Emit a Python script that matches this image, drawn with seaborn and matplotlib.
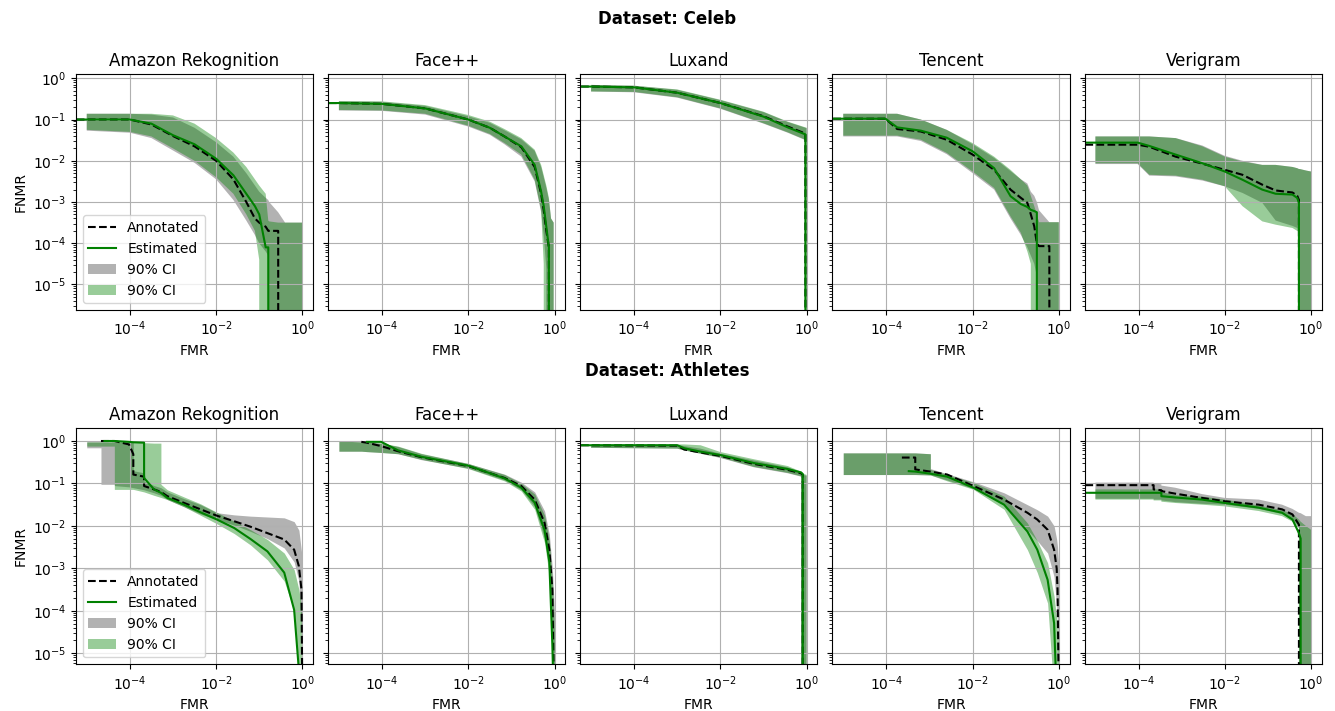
import numpy as np
import matplotlib
matplotlib.use("Agg")
import matplotlib.pyplot as plt
from matplotlib.ticker import NullLocator
import seaborn as sns

# All curve values in decades (log10 of FMR / FNMR).
# Z marks points where the curve has fallen to FNMR = 0 (drops off the log axis).
Z = -np.inf
N = np.nan

# === Dataset: Celeb ===
celeb_amazon_fmr = [-6, -5, -4, -3.5, -3, -2.5, -2, -1.6, -1.3, -1.1, -1.0, -0.85, -0.79, -0.77, -0.56, -0.4, 0]
celeb_amazon_ann = [-1.0, -1.0, -1.0, -1.12, -1.4, -1.65, -2.0, -2.45, -3.0, -3.4, -3.5, -3.6, -3.7, -3.7, -3.7, Z, Z]
celeb_amazon_est = [-1.0, -1.0, -1.0, -1.1, -1.38, -1.6, -1.95, -2.35, -2.8, -3.1, -3.3, -4.1, -4.1, Z, Z, Z, Z]
celeb_amazon_gray_lo = [N, -1.27, -1.32, -1.45, -1.75, -2.05, -2.45, -2.95, -3.45, -3.8, -4.0, -4.2, -4.3, Z, Z, Z, Z]
celeb_amazon_gray_hi = [N, -0.86, -0.86, -0.88, -0.95, -1.2, -1.55, -1.9, -2.3, -2.6, -2.75, -2.9, -2.95, -3.0, -3.25, -3.5, -3.5]
celeb_amazon_green_lo = [N, -1.25, -1.3, -1.41, -1.7, -2.0, -2.4, -2.8, -3.3, -3.7, -4.4, Z, Z, Z, Z, Z, Z]
celeb_amazon_green_hi = [N, -0.86, -0.86, -0.86, -0.9, -1.1, -1.45, -1.8, -2.15, -2.45, -2.6, -2.8, -3.45, -3.47, -3.5, -3.5, -3.5]

celeb_face_fmr = [-6, -5, -4, -3, -2, -1.5, -1.16, -0.77, -0.46, -0.31, -0.25, -0.19, -0.13, -0.08, -0.02]
celeb_face_ann = [-0.6, -0.6, -0.62, -0.73, -1.0, -1.2, -1.41, -1.67, -2.15, -2.8, -3.2, -3.7, -4.1, Z, Z]
celeb_face_est = [-0.6, -0.6, -0.62, -0.73, -1.0, -1.2, -1.41, -1.65, -2.1, -2.75, -3.1, -3.6, -4.1, Z, Z]
celeb_face_gray_lo = [N, -0.78, -0.79, -0.88, -1.17, -1.37, -1.6, -1.9, -2.5, -3.25, -3.8, -4.6, Z, Z, Z]
celeb_face_gray_hi = [N, -0.56, -0.57, -0.67, -0.92, -1.08, -1.26, -1.48, -1.76, -2.15, -2.4, -2.65, -2.95, -3.4, -3.5]
celeb_face_green_lo = [N, -0.77, -0.78, -0.86, -1.15, -1.35, -1.57, -1.85, -2.46, -3.2, -4.5, Z, Z, Z, Z]
celeb_face_green_hi = [N, -0.55, -0.56, -0.65, -0.89, -1.05, -1.23, -1.45, -1.73, -2.1, -2.35, -2.6, -2.9, -3.4, -3.5]

celeb_luxand_fmr = [-6, -5, -4, -3, -2, -1, -0.44, -0.03, 0]
celeb_luxand_ann = [-0.2, -0.2, -0.22, -0.35, -0.6, -0.92, -1.17, -1.34, Z]
celeb_luxand_est = [-0.2, -0.2, -0.22, -0.35, -0.6, -0.93, -1.19, -1.36, Z]
celeb_luxand_gray_lo = [N, -0.32, -0.34, -0.47, -0.74, -1.1, -1.32, -1.5, Z]
celeb_luxand_gray_hi = [N, -0.16, -0.18, -0.28, -0.53, -0.82, -1.06, -1.2, -1.21]
celeb_luxand_green_lo = [N, -0.32, -0.33, -0.46, -0.73, -1.09, -1.31, -1.49, Z]
celeb_luxand_green_hi = [N, -0.16, -0.18, -0.27, -0.52, -0.81, -1.05, -1.19, -1.2]

celeb_tencent_fmr = [-6, -5, -4.02, -3.75, -3.2, -2.6, -2, -1.5, -1.12, -0.88, -0.73, -0.65, -0.57, -0.51, -0.46, -0.22, -0.1, 0]
celeb_tencent_ann = [-0.98, -0.98, -0.98, -1.23, -1.29, -1.49, -1.85, -2.22, -2.7, -2.9, -3.02, -3.3, -3.59, -4.0, -4.07, -4.07, Z, Z]
celeb_tencent_est = [-0.98, -0.98, -0.98, -1.19, -1.27, -1.44, -1.77, -2.18, -2.86, -3.05, -3.12, -3.19, -3.22, -3.25, Z, Z, Z, Z]
celeb_tencent_gray_lo = [N, -1.41, -1.41, -1.41, -1.52, -1.84, -2.3, -2.7, -3.4, -3.8, -4.1, -4.3, -4.5, -4.8, Z, Z, Z, Z]
celeb_tencent_gray_hi = [N, -0.86, -0.86, -0.86, -1.0, -1.25, -1.6, -1.93, -2.25, -2.45, -2.55, -2.75, -2.85, -3.0, -3.2, -3.49, -3.49, -3.49]
celeb_tencent_green_lo = [N, -1.39, -1.39, -1.39, -1.49, -1.81, -2.26, -2.66, -3.35, -3.75, -4.2, -4.5, Z, Z, Z, Z, Z, Z]
celeb_tencent_green_hi = [N, -0.86, -0.86, -0.86, -1.0, -1.25, -1.57, -1.9, -2.22, -2.45, -2.6, -2.85, -3.1, -3.3, -3.49, -3.49, -3.49, -3.49]

celeb_verigram_fmr = [-6, -5, -4.02, -3.75, -3.14, -2.52, -2, -1.59, -1.13, -0.82, -0.43, -0.32, -0.28, -0.26, -0.1, 0]
celeb_verigram_ann = [-1.61, -1.61, -1.61, -1.66, -1.9, -2.07, -2.22, -2.34, -2.58, -2.72, -2.77, -2.85, -2.95, Z, Z, Z]
celeb_verigram_est = [-1.56, -1.56, -1.56, -1.64, -1.85, -2.06, -2.26, -2.46, -2.7, -2.8, -2.82, -2.9, -3.02, Z, Z, Z]
celeb_verigram_gray_lo = [N, -2.08, -2.08, -2.36, -2.38, -2.48, -2.62, -2.78, -3.02, -3.45, -3.58, -3.63, -3.68, Z, Z, Z]
celeb_verigram_gray_hi = [N, -1.41, -1.41, -1.41, -1.45, -1.63, -1.88, -2.0, -2.1, -2.1, -2.15, -2.18, -2.2, -2.2, -2.24, -2.26]
celeb_verigram_green_lo = [N, -2.06, -2.06, -2.34, -2.36, -2.46, -2.62, -3.1, -3.47, -3.55, -3.63, -3.7, -3.72, Z, Z, Z]
celeb_verigram_green_hi = [N, -1.41, -1.41, -1.41, -1.45, -1.65, -1.9, -2.02, -2.1, -2.1, -2.15, -2.18, -2.2, -2.2, -2.24, -2.26]

# === Dataset: Athletes ===
ath_amazon_fmr = [-6, -5, -4.67, -4.67, -4.59, -4.36, -4.36, -4.02, -3.92, -3.92, -3.67, -3.67, -3.44, -3.28,
                  -3.28, -3.13, -2.74, -2.36, -1.98, -1.58, -1.2, -0.81, -0.42, -0.19, -0.08, -0.02, 0]
ath_amazon_ann = [N, N, N, 0.0, 0.0, 0.0, 0.0, -0.08, -0.31, -0.79, -0.84, -1.06, -1.14, -1.2,
                  -1.2, -1.3, -1.46, -1.61, -1.76, -1.89, -2.02, -2.17, -2.32, -2.56, -2.95, -3.5, -6]
ath_amazon_est = [N, N, N, N, 0.0, 0.0, 0.0, -0.02, -0.03, -0.03, -0.04, -0.87, -1.14, -1.22,
                  -1.22, -1.34, -1.5, -1.68, -1.85, -2.05, -2.31, -2.6, -3.1, -3.98, -5.4, -6, -6]
ath_amazon_gray_lo = [N, -0.16, -0.16, -1.02, -1.02, -1.02, -1.05, -1.08, -1.1, -1.1, -1.15, -1.15, -1.22, -1.28,
                      -1.28, -1.38, -1.55, -1.72, -1.85, -1.98, -2.13, -2.3, -2.52, -2.85, -3.3, -4.5, -6]
ath_amazon_gray_hi = [N, -0.02, -0.02, -0.02, -0.02, -0.02, -0.02, -0.02, -0.02, -0.7, -0.75, -0.95, -1.05, -1.1,
                      -1.1, -1.2, -1.36, -1.5, -1.69, -1.74, -1.77, -1.79, -1.81, -1.9, -2.1, -2.6, -3.5]
ath_amazon_green_lo = [N, -0.12, -0.12, -0.12, -0.12, -0.12, -1.14, -1.14, -1.14, -1.14, -1.2, -1.2, -1.28, -1.33,
                       -1.33, -1.38, -1.55, -1.75, -1.95, -2.18, -2.45, -2.8, -3.3, -4.0, -5.5, -6, -6]
ath_amazon_green_hi = [N, -0.02, -0.02, -0.02, -0.02, -0.02, -0.02, -0.02, -0.03, -0.03, -0.04, -0.04, -0.05, -0.05,
                       -1.02, -1.15, -1.32, -1.48, -1.68, -1.89, -2.09, -2.32, -2.64, -3.03, -3.5, -3.9, -4.3]

ath_face_fmr = [-6, -5, -4.48, -4.35, -4.02, -3.63, -3.09, -2, -1.16, -0.77, -0.46, -0.23, -0.12, -0.05, -0.02, 0]
ath_face_ann = [N, N, -0.02, -0.04, -0.12, -0.24, -0.38, -0.59, -0.87, -1.06, -1.38, -1.93, -2.56, -3.5, -5.5, -6]
ath_face_est = [N, N, N, -0.02, -0.02, -0.22, -0.37, -0.58, -0.88, -1.1, -1.45, -2.1, -2.85, -4.8, -6, -6]
ath_face_gray_lo = [N, -0.24, -0.24, -0.25, -0.27, -0.3, -0.44, -0.64, -0.92, -1.15, -1.55, -2.3, -3.0, -4.5, -6, -6]
ath_face_gray_hi = [N, 0.0, -0.02, -0.03, -0.05, -0.13, -0.3, -0.53, -0.78, -0.97, -1.2, -1.65, -2.2, -3.0, -3.6, -4.0]
ath_face_green_lo = [N, -0.24, -0.24, -0.25, -0.27, -0.3, -0.43, -0.65, -0.94, -1.18, -1.61, -2.4, -3.19, -5.0, -6, -6]
ath_face_green_hi = [N, 0.0, -0.02, -0.03, -0.05, -0.12, -0.29, -0.53, -0.79, -1.0, -1.25, -1.75, -2.35, -3.3, -4.0, -4.5]

ath_luxand_fmr = [-6, -5, -3.0, -2.84, -2.46, -2.0, -1.22, -0.44, -0.13, -0.09, -0.07, 0]
ath_luxand_ann = [-0.1, -0.1, -0.11, -0.2, -0.27, -0.35, -0.54, -0.68, -0.76, -0.8, Z, Z]
ath_luxand_est = [-0.1, -0.1, -0.1, -0.17, -0.25, -0.33, -0.52, -0.66, -0.74, -0.78, Z, Z]
ath_luxand_gray_lo = [N, -0.16, -0.18, -0.22, -0.3, -0.4, -0.62, -0.76, -0.84, Z, Z, Z]
ath_luxand_gray_hi = [N, -0.08, -0.09, -0.12, -0.18, -0.3, -0.46, -0.62, -0.74, -0.78, -0.8, -0.82]
ath_luxand_green_lo = [N, -0.16, -0.18, -0.22, -0.3, -0.39, -0.61, -0.75, -0.83, Z, Z, Z]
ath_luxand_green_hi = [N, -0.08, -0.08, -0.08, -0.1, -0.26, -0.43, -0.59, -0.72, -0.75, -0.77, -0.8]

ath_tencent_fmr = [-6, -5, -3.64, -3.48, -3.33, -3.33, -2.98, -2.98, -2.59, -1.98, -1.27, -0.73, -0.5, -0.26, -0.11, -0.05, -0.03, 0]
ath_tencent_ann = [N, N, -0.39, -0.39, -0.39, -0.67, -0.72, -0.72, -0.79, -1.06, -1.38, -1.69, -1.85, -2.09, -2.56, -3.0, -3.5, -6]
ath_tencent_est = [N, N, N, -0.71, -0.72, -0.72, -0.77, -0.77, -0.84, -1.1, -1.5, -2.13, -2.56, -3.27, -4.29, -6, -6, -6]
ath_tencent_gray_lo = [N, -0.79, -0.79, -0.79, -0.79, -0.79, -0.8, -0.8, -0.92, -1.12, -1.5, -2.09, -2.35, -2.64, -3.2, -3.9, -4.3, -6]
ath_tencent_gray_hi = [N, -0.28, -0.28, -0.28, -0.28, -0.28, -0.3, -0.65, -0.77, -0.96, -1.22, -1.5, -1.62, -1.77, -2.0, -2.32, -2.5, -3.0]
ath_tencent_green_lo = [N, -0.79, -0.79, -0.79, -0.79, -0.79, -0.8, -0.8, -0.94, -1.14, -1.61, -2.56, -3.1, -3.82, -6, -6, -6, -6]
ath_tencent_green_hi = [N, -0.28, -0.28, -0.28, -0.28, -0.28, -0.3, -0.67, -0.79, -0.98, -1.3, -1.93, -2.35, -2.87, -3.66, -4.2, -4.5, -5.0]

ath_verigram_fmr = [-6, -5, -3.65, -3.65, -3.47, -3.47, -3.15, -2.53, -2.0, -1.21, -0.67, -0.43, -0.28, -0.24, -0.12, 0]
ath_verigram_ann = [-1.04, -1.04, -1.04, -1.14, -1.16, -1.18, -1.24, -1.34, -1.42, -1.5, -1.61, -1.73, -1.97, Z, Z, Z]
ath_verigram_est = [-1.22, -1.22, -1.22, -1.22, -1.22, -1.3, -1.33, -1.38, -1.46, -1.57, -1.69, -1.85, -2.17, -2.3, Z, Z]
ath_verigram_gray_lo = [N, -1.36, -1.36, -1.38, -1.38, -1.4, -1.44, -1.48, -1.5, -1.6, -1.72, -1.85, -2.0, Z, Z, Z]
ath_verigram_gray_hi = [N, -0.98, -0.98, -1.0, -1.02, -1.05, -1.1, -1.25, -1.34, -1.38, -1.5, -1.6, -1.69, -1.7, -1.77, -1.77]
ath_verigram_green_lo = [N, -1.38, -1.38, -1.4, -1.4, -1.43, -1.46, -1.5, -1.54, -1.65, -1.77, -1.9, -2.05, Z, Z, Z]
ath_verigram_green_hi = [N, -1.14, -1.14, -1.14, -1.14, -1.2, -1.28, -1.31, -1.38, -1.52, -1.63, -1.72, -1.85, -1.9, -2.0, -2.09]

systems = ["Amazon Rekognition", "Face++", "Luxand", "Tencent", "Verigram"]
rows = [
    ("Dataset: Celeb", [
        (celeb_amazon_fmr, celeb_amazon_ann, celeb_amazon_est, celeb_amazon_gray_lo, celeb_amazon_gray_hi, celeb_amazon_green_lo, celeb_amazon_green_hi),
        (celeb_face_fmr, celeb_face_ann, celeb_face_est, celeb_face_gray_lo, celeb_face_gray_hi, celeb_face_green_lo, celeb_face_green_hi),
        (celeb_luxand_fmr, celeb_luxand_ann, celeb_luxand_est, celeb_luxand_gray_lo, celeb_luxand_gray_hi, celeb_luxand_green_lo, celeb_luxand_green_hi),
        (celeb_tencent_fmr, celeb_tencent_ann, celeb_tencent_est, celeb_tencent_gray_lo, celeb_tencent_gray_hi, celeb_tencent_green_lo, celeb_tencent_green_hi),
        (celeb_verigram_fmr, celeb_verigram_ann, celeb_verigram_est, celeb_verigram_gray_lo, celeb_verigram_gray_hi, celeb_verigram_green_lo, celeb_verigram_green_hi),
    ], (10 ** -5.62, 10 ** 0.104)),
    ("Dataset: Athletes", [
        (ath_amazon_fmr, ath_amazon_ann, ath_amazon_est, ath_amazon_gray_lo, ath_amazon_gray_hi, ath_amazon_green_lo, ath_amazon_green_hi),
        (ath_face_fmr, ath_face_ann, ath_face_est, ath_face_gray_lo, ath_face_gray_hi, ath_face_green_lo, ath_face_green_hi),
        (ath_luxand_fmr, ath_luxand_ann, ath_luxand_est, ath_luxand_gray_lo, ath_luxand_gray_hi, ath_luxand_green_lo, ath_luxand_green_hi),
        (ath_tencent_fmr, ath_tencent_ann, ath_tencent_est, ath_tencent_gray_lo, ath_tencent_gray_hi, ath_tencent_green_lo, ath_tencent_green_hi),
        (ath_verigram_fmr, ath_verigram_ann, ath_verigram_est, ath_verigram_gray_lo, ath_verigram_gray_hi, ath_verigram_green_lo, ath_verigram_green_hi),
    ], (10 ** -5.26, 10 ** 0.30)),
]


def lin(vals):
    return 10.0 ** np.array(vals, dtype=float)


fig, axes = plt.subplots(2, 5, figsize=(13.35, 7.11), dpi=100, sharey="row")
fig.subplots_adjust(left=0.0569, right=0.9901, top=0.8959, bottom=0.0657, wspace=0.0633, hspace=0.501)

for r, (row_title, panels, ylim) in enumerate(rows):
    for c, (fmr, ann, est, gray_lo, gray_hi, green_lo, green_hi) in enumerate(panels):
        ax = axes[r, c]
        x = lin(fmr)

        # confidence bands (drawn on linear axes, scale switched to log below)
        gray_band = ax.fill_between(x, lin(gray_lo), lin(gray_hi), color="gray", alpha=0.6, lw=0, label="90% CI")
        green_band = ax.fill_between(x, lin(green_lo), lin(green_hi), color="green", alpha=0.4, lw=0, label="90% CI")

        for vals, color, ls, lab in [(ann, "black", "--", "Annotated"), (est, "green", "-", "Estimated")]:
            y = lin(vals)
            m = ~np.isnan(y)
            sns.lineplot(x=x[m], y=y[m], ax=ax, estimator=None, sort=False, color=color,
                         linestyle=ls, linewidth=1.5, label=lab, legend=False)

        ax.set_xscale("log")
        ax.set_yscale("log")
        ax.set_xlim(10 ** -5.25, 10 ** 0.25)
        ax.set_ylim(*ylim)
        ax.xaxis.set_minor_locator(NullLocator())
        ax.grid(True)
        ax.set_title(systems[c], fontsize=12)
        ax.set_xlabel("FMR")
        ax.set_ylabel("FNMR" if c == 0 else "")
        if c == 0:
            handles = list(ax.get_lines()[:2]) + [gray_band, green_band]
            ax.legend(handles, ["Annotated", "Estimated", "90% CI", "90% CI"], loc="lower left")

fig.text(0.5, 1 - 18.5 / 711, "Dataset: Celeb", ha="center", va="center", fontsize=12, fontweight="bold")
fig.text(0.5, 1 - 371 / 711, "Dataset: Athletes", ha="center", va="center", fontsize=12, fontweight="bold")

plt.savefig("out.png", dpi=100)
plt.close()
